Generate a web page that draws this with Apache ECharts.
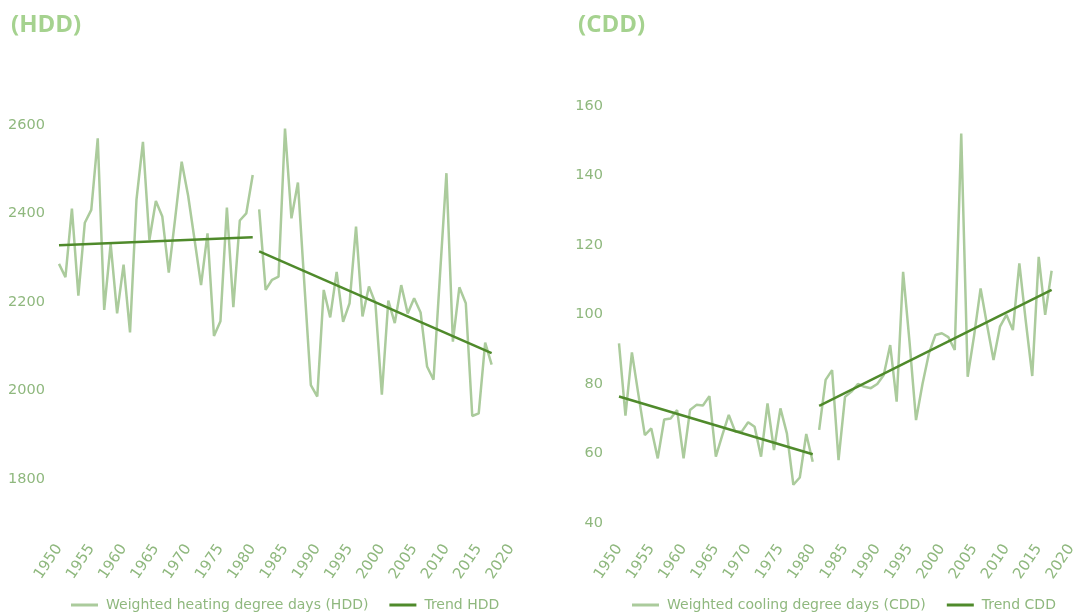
<!DOCTYPE html>
<html>
<head>
<meta charset="utf-8">
<script src="https://cdn.jsdelivr.net/npm/echarts@6/dist/echarts.min.js"></script>
<style>
  html, body { margin: 0; padding: 0; background: #fff; }
  #chart { width: 1079px; height: 615px; }
</style>
</head>
<body>
<div id="chart"></div>
<script>
// years
const years = [1950, 1951, 1952, 1953, 1954, 1955, 1956, 1957, 1958, 1959,
  1960, 1961, 1962, 1963, 1964, 1965, 1966, 1967, 1968, 1969,
  1970, 1971, 1972, 1973, 1974, 1975, 1976, 1977, 1978, 1979,
  1980, 1981, 1982, 1983, 1984, 1985, 1986, 1987, 1988, 1989,
  1990, 1991, 1992, 1993, 1994, 1995, 1996, 1997, 1998, 1999,
  2000, 2001, 2002, 2003, 2004, 2005, 2006, 2007, 2008, 2009,
  2010, 2011, 2012, 2013, 2014, 2015, 2016, 2017];

// HDD 1950-1980 / 1981-2017
const hddA = [2286, 2256, 2411, 2214, 2379, 2408, 2570, 2182, 2331, 2174,
  2284, 2131, 2431, 2562, 2340, 2428, 2393, 2266, 2390, 2517,
  2440, 2340, 2238, 2355, 2123, 2156, 2413, 2188, 2384, 2400, 2487];
const hddB = [2409, 2227, 2250, 2257, 2592, 2389, 2470, 2240, 2012,
  1986, 2227, 2165, 2268, 2155, 2197, 2370, 2167, 2235, 2197,
  1990, 2203, 2152, 2238, 2174, 2208, 2176, 2054, 2024, 2260,
  2491, 2110, 2233, 2197, 1942, 1948, 2108, 2058];
const hddTrendA = [[1950, 2328], [1980, 2346]];
const hddTrendB = [[1981, 2314], [2017, 2084]];

// CDD 1950-1980 / 1981-2017
const cddA = [91.7, 70.9, 89.1, 77, 65.3, 67.2, 58.6, 69.8, 70.1, 72.5,
  58.6, 72.5, 74, 73.8, 76.5, 59.1, 65.3, 71.1, 66.3, 66.3,
  69, 67.7, 59.1, 74.4, 61, 73, 65.8, 51, 53.1, 65.6, 57.6];
const cddB = [66.8, 81.2, 84, 58.1, 76.3, 77.8, 80, 79.2, 78.8,
  80, 82.6, 91.2, 74.9, 112.3, 92, 69.6, 80, 88.8, 94.1,
  94.6, 93.5, 89.8, 152.1, 82.1, 94, 107.5, 97, 86.9, 96.5,
  99.9, 95.5, 114.7, 98, 82.3, 116.6, 99.9, 112.6];
const cddTrendA = [[1950, 76.4], [1980, 59.8]];
const cddTrendB = [[1981, 73.7], [2017, 107.1]];

const textColor = "#8fb87e";
const rawColor = "#abcb9c";
const trendColor = "#4f8a2b";
const font = "DejaVu Sans";

function pairs(ys, vals) {
  return vals.map((v, i) => [ys[i], v]);
}

const chart = echarts.init(document.getElementById("chart"));

function xAxisCfg(gridIndex) {
  return {
    type: "value", gridIndex: gridIndex, min: 1950, max: 2020, interval: 5,
    axisLine: { show: false }, axisTick: { show: false }, splitLine: { show: false },
    axisLabel: { rotate: 56, margin: 23, color: textColor, fontSize: 15, fontFamily: font,
      showMinLabel: true, showMaxLabel: true, formatter: v => String(v) }
  };
}

function lineSeries(name, data, xi, color, width) {
  return {
    name: name, type: "line", xAxisIndex: xi, yAxisIndex: xi, data: data,
    symbol: "none", silent: true, animation: false,
    lineStyle: { color: color, width: width }, itemStyle: { color: color }
  };
}

function legendCfg(left, names) {
  return {
    left: left, top: 593, icon: "rect", itemWidth: 27, itemHeight: 3, itemGap: 21,
    textStyle: { color: textColor, fontSize: 14, fontFamily: font, padding: [0, 0, 0, 3] },
    data: names
  };
}

const option = {
  animation: false,
  title: [
    { text: "(HDD)", left: 6, top: 8, textStyle: { color: "#a5d28f", fontSize: 24, fontWeight: "bold", fontFamily: "Open Sans" } },
    { text: "(CDD)", left: 573, top: 8, textStyle: { color: "#a5d28f", fontSize: 24, fontWeight: "bold", fontFamily: "Open Sans" } }
  ],
  grid: [
    { left: 59, top: 125, width: 452, height: 398 },
    { left: 619, top: 106, width: 452, height: 417 }
  ],
  legend: [
    legendCfg(66, ["Weighted heating degree days (HDD)", "Trend HDD"]),
    legendCfg(627, ["Weighted cooling degree days (CDD)", "Trend CDD"])
  ],
  xAxis: [xAxisCfg(0), xAxisCfg(1)],
  yAxis: [
    { type: "value", gridIndex: 0, min: 1700, max: 2600, interval: 100,
      axisLine: { show: false }, axisTick: { show: false }, splitLine: { show: false },
      axisLabel: { margin: 14, color: textColor, fontSize: 14.5, fontFamily: font,
        formatter: v => (v % 200 === 0 ? String(v) : "") } },
    { type: "value", gridIndex: 1, min: 40, max: 160, interval: 20,
      axisLine: { show: false }, axisTick: { show: false }, splitLine: { show: false },
      axisLabel: { margin: 16, color: textColor, fontSize: 14.5, fontFamily: font } }
  ],
  series: [
    lineSeries("Weighted heating degree days (HDD)", pairs(years.slice(0, 31), hddA), 0, rawColor, 2.5),
    lineSeries("Weighted heating degree days (HDD)", pairs(years.slice(31), hddB), 0, rawColor, 2.5),
    lineSeries("Trend HDD", hddTrendA, 0, trendColor, 2.5),
    lineSeries("Trend HDD", hddTrendB, 0, trendColor, 2.5),
    lineSeries("Weighted cooling degree days (CDD)", pairs(years.slice(0, 31), cddA), 1, rawColor, 2.5),
    lineSeries("Weighted cooling degree days (CDD)", pairs(years.slice(31), cddB), 1, rawColor, 2.5),
    lineSeries("Trend CDD", cddTrendA, 1, trendColor, 2.5),
    lineSeries("Trend CDD", cddTrendB, 1, trendColor, 2.5)
  ]
};

chart.setOption(option);
</script>
</body>
</html>
